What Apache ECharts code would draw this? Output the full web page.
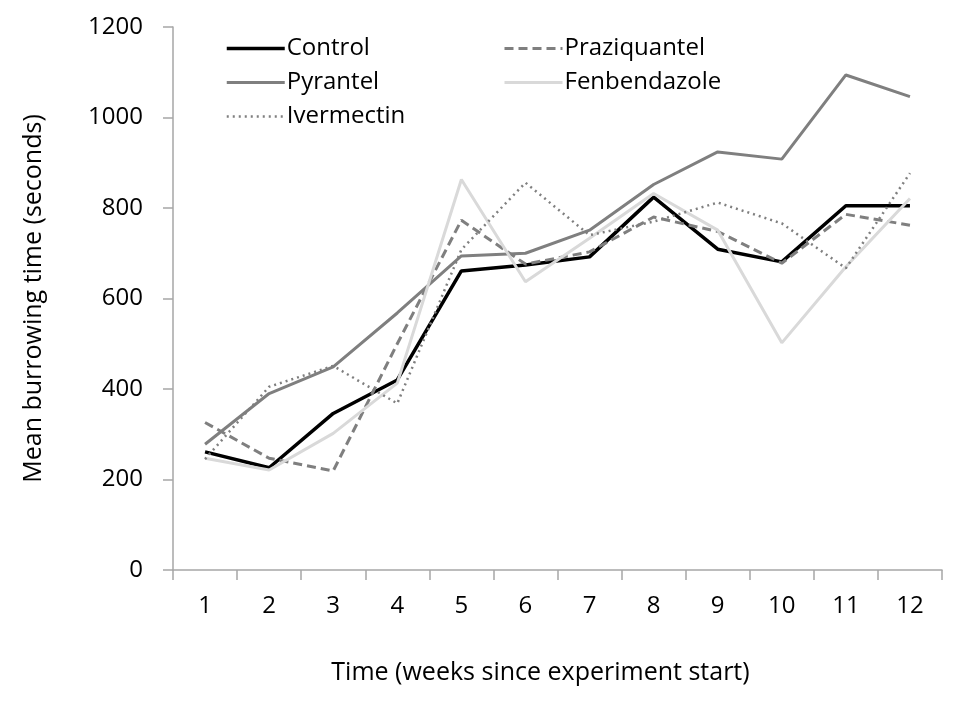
<!DOCTYPE html>
<html>
<head>
<meta charset="utf-8">
<script src="https://cdn.jsdelivr.net/npm/echarts@6/dist/echarts.min.js"></script>
<style>html,body{margin:0;padding:0;background:#fff;}#c{width:976px;height:711px;}</style>
</head>
<body>
<div id="c"></div>
<script>
var weeks = ['1','2','3','4','5','6','7','8','9','10','11','12'];
var control      = [261, 226, 346, 420, 661, 674, 692, 824, 709, 681, 805, 805];
var praziquantel = [326, 247, 219, 500, 773, 676, 703, 780, 748, 678, 786, 762];
var pyrantel     = [278, 390, 449, 568, 694, 700, 751, 852, 924, 908, 1094, 1046];
var fenbendazole = [247, 221, 302, 413, 863, 637, 733, 832, 751, 502, 670, 821];
var ivermectin   = [245, 405, 451, 368, 708, 856, 740, 770, 812, 766, 667, 877];
var yTicks = [0, 200, 400, 600, 800, 1000, 1200];

var font = 'Open Sans';
var fs = 24;
var styles = {
  'Control':      {color: '#000000', width: 3.5, type: 'solid'},
  'Praziquantel': {color: '#7f7f7f', width: 3, type: [9, 5]},
  'Pyrantel':     {color: '#7f7f7f', width: 3, type: 'solid'},
  'Fenbendazole': {color: '#d9d9d9', width: 3, type: 'solid'},
  'Ivermectin':   {color: '#7f7f7f', width: 2.5, type: [2, 4]}
};
var chart = echarts.init(document.getElementById('c'));
function s(name, data) {
  var st = styles[name];
  return {name: name, type: 'line', data: data, symbol: 'none', animation: false,
    lineStyle: {color: st.color, width: st.width, type: st.type}, itemStyle: {color: st.color}};
}
function legend(left, names) {
  return {orient: 'vertical', left: left, top: 31, padding: 5, itemWidth: 58, itemHeight: 14, itemGap: 9,
    selectedMode: false,
    data: names.map(function(n){ var st = styles[n];
      return {name: n, lineStyle: {color: st.color, width: st.width, type: st.type}}; }),
    itemStyle: {color: 'transparent', borderWidth: 0, opacity: 0},
    textStyle: {fontFamily: font, fontSize: fs, lineHeight: 25, color: '#000', padding: [0,0,0,-3]}};
}
chart.setOption({
  backgroundColor: '#fff',
  grid: {left: 173, right: 34, top: 27, bottom: 141, containLabel: false},
  legend: [legend(220, ['Control', 'Pyrantel', 'Ivermectin']), legend(498, ['Praziquantel', 'Fenbendazole'])],
  xAxis: {
    type: 'category', data: weeks, boundaryGap: true,
    name: 'Time (weeks since experiment start)', nameLocation: 'middle', nameGap: 90,
    nameTextStyle: {fontFamily: font, fontSize: 25, color: '#000', padding: [0, 34, 0, 0]},
    axisLine: {lineStyle: {color: '#a6a6a6', width: 1.5}},
    axisTick: {show: true, length: 10, lineStyle: {color: '#a6a6a6', width: 1.5}},
    axisLabel: {fontFamily: font, fontSize: fs, color: '#000', margin: 24},
    splitLine: {show: false}
  },
  yAxis: {
    type: 'value', min: 0, max: 1200, interval: 200,
    name: 'Mean burrowing time (seconds)', nameLocation: 'middle', nameGap: 127, nameRotate: 90,
    nameTextStyle: {fontFamily: font, fontSize: 25, color: '#000'},
    axisLine: {show: true, lineStyle: {color: '#a6a6a6', width: 1.5}},
    axisTick: {show: true, length: 10, lineStyle: {color: '#a6a6a6', width: 1.5}},
    axisLabel: {fontFamily: font, fontSize: fs, color: '#000', margin: 30,
      formatter: function(v){ return yTicks.indexOf(v) >= 0 ? String(v) : ''; }},
    splitLine: {show: false}
  },
  series: [
    s('Control', control),
    s('Praziquantel', praziquantel),
    s('Pyrantel', pyrantel),
    s('Fenbendazole', fenbendazole),
    s('Ivermectin', ivermectin)
  ]
});
</script>
</body>
</html>
